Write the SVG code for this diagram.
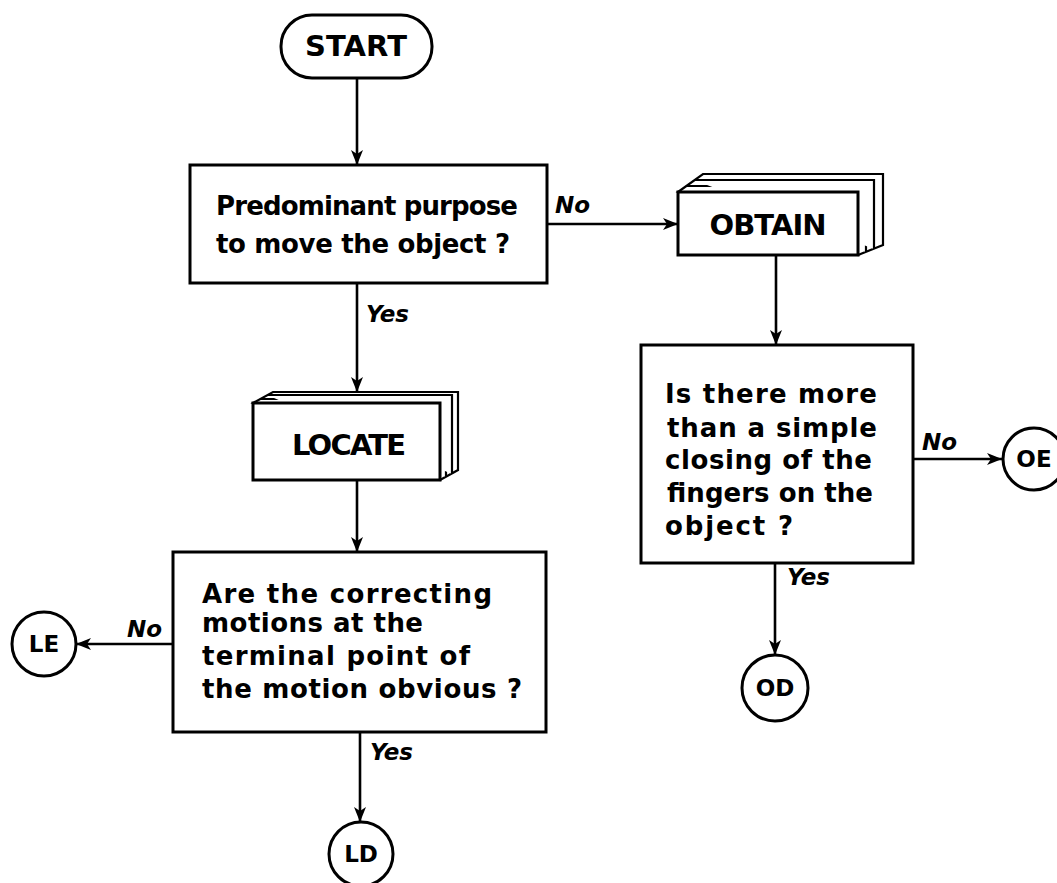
<svg xmlns="http://www.w3.org/2000/svg" width="1057" height="883" viewBox="0 0 1057 883">
<defs>
<marker id="ah" markerUnits="userSpaceOnUse" markerWidth="18" markerHeight="14" refX="15" refY="7" orient="auto">
<path d="M0,1 L15,7 L0,13 L4,7 Z" fill="#000"/>
</marker>
<style>
.box{fill:#fff;stroke:#000;stroke-width:3}
.pg{fill:#fff;stroke:#000;stroke-width:2.2}
.ln{fill:none;stroke:#000;stroke-width:2.6}
.t{font-family:"DejaVu Sans","Liberation Sans",sans-serif;font-weight:bold;font-size:26px;fill:#000}
.h{font-family:"DejaVu Sans","Liberation Sans",sans-serif;font-weight:bold;font-size:29px;fill:#000}
.c{font-family:"DejaVu Sans","Liberation Sans",sans-serif;font-weight:bold;font-size:23px;fill:#000;text-anchor:middle}
.l{font-family:"DejaVu Sans","Liberation Sans",sans-serif;font-weight:bold;font-style:italic;font-size:23px;fill:#000}
</style>
</defs>
<rect width="1057" height="883" fill="#fff"/>

<g id="connectors">
<line class="ln" x1="357" y1="78" x2="357" y2="165" marker-end="url(#ah)"/>
<line class="ln" x1="547" y1="224" x2="678" y2="224" marker-end="url(#ah)"/>
<line class="ln" x1="357" y1="283" x2="357" y2="392" marker-end="url(#ah)"/>
<line class="ln" x1="776" y1="255" x2="776" y2="345" marker-end="url(#ah)"/>
<line class="ln" x1="357" y1="480" x2="357" y2="552" marker-end="url(#ah)"/>
<line class="ln" x1="173" y1="644" x2="76" y2="644" marker-end="url(#ah)"/>
<line class="ln" x1="360" y1="732" x2="360" y2="822" marker-end="url(#ah)"/>
<line class="ln" x1="913" y1="459" x2="1002" y2="459" marker-end="url(#ah)"/>
<line class="ln" x1="775" y1="563" x2="775" y2="655" marker-end="url(#ah)"/>
<text class="l" x="555" y="213">No</text>
<text class="l" x="366" y="322">Yes</text>
<text class="l" x="127" y="637">No</text>
<text class="l" x="370" y="760">Yes</text>
<text class="l" x="922" y="450">No</text>
<text class="l" x="787" y="585">Yes</text>
</g>

<g id="start">
<rect class="box" x="281" y="15" width="151" height="63" rx="31" ry="31"/>
<text class="h" x="356" y="56" text-anchor="middle" textLength="102">START</text>
</g>

<g id="purpose">
<rect class="box" x="190" y="165" width="357" height="118"/>
<text class="t" x="216" y="215" textLength="302">Predominant purpose</text>
<text class="t" x="216" y="253" textLength="294">to move the object ?</text>
</g>

<g id="obtain">
<polygon class="pg" points="678,192 703,174 883,174 883,245 858,255"/>
<polyline class="pg" points="686,186 866,186 866,252"/>
<polyline class="pg" points="694,180 874,180 874,249"/>
<rect class="box" x="678" y="192" width="180" height="63"/>
<text class="h" x="768" y="235" text-anchor="middle" textLength="117">OBTAIN</text>
</g>

<g id="locate">
<polygon class="pg" points="253,403 273,392 458,392 458,470 440,480"/>
<polyline class="pg" points="260,399 446,399 446,477"/>
<polyline class="pg" points="267,395 452,395 452,474"/>
<rect class="box" x="253" y="403" width="187" height="77"/>
<text class="h" x="349" y="455" text-anchor="middle" textLength="114">LOCATE</text>
</g>

<g id="fingers">
<rect class="box" x="641" y="345" width="272" height="218"/>
<text class="t" x="665" y="403" textLength="212">Is there more</text>
<text class="t" x="667" y="437" textLength="210">than a simple</text>
<text class="t" x="665" y="469" textLength="207">closing of the</text>
<text class="t" x="667" y="502" textLength="206">fingers on the</text>
<text class="t" x="665" y="535" textLength="128">object  ?</text>
</g>

<g id="correcting">
<rect class="box" x="173" y="552" width="373" height="180"/>
<text class="t" x="202" y="603" textLength="290">Are the correcting</text>
<text class="t" x="202" y="632" textLength="221">motions at the</text>
<text class="t" x="202" y="665" textLength="268">terminal point of</text>
<text class="t" x="202" y="698" textLength="320">the motion obvious ?</text>
</g>

<g id="LE">
<circle class="box" cx="44" cy="644" r="32"/>
<text class="c" x="44" y="652">LE</text>
</g>
<g id="LD">
<circle class="box" cx="361" cy="854" r="32"/>
<text class="c" x="361" y="862">LD</text>
</g>
<g id="OE">
<circle class="box" cx="1034" cy="459" r="31"/>
<text class="c" x="1034" y="467">OE</text>
</g>
<g id="OD">
<circle class="box" cx="775" cy="688" r="33"/>
<text class="c" x="775" y="696">OD</text>
</g>
</svg>
